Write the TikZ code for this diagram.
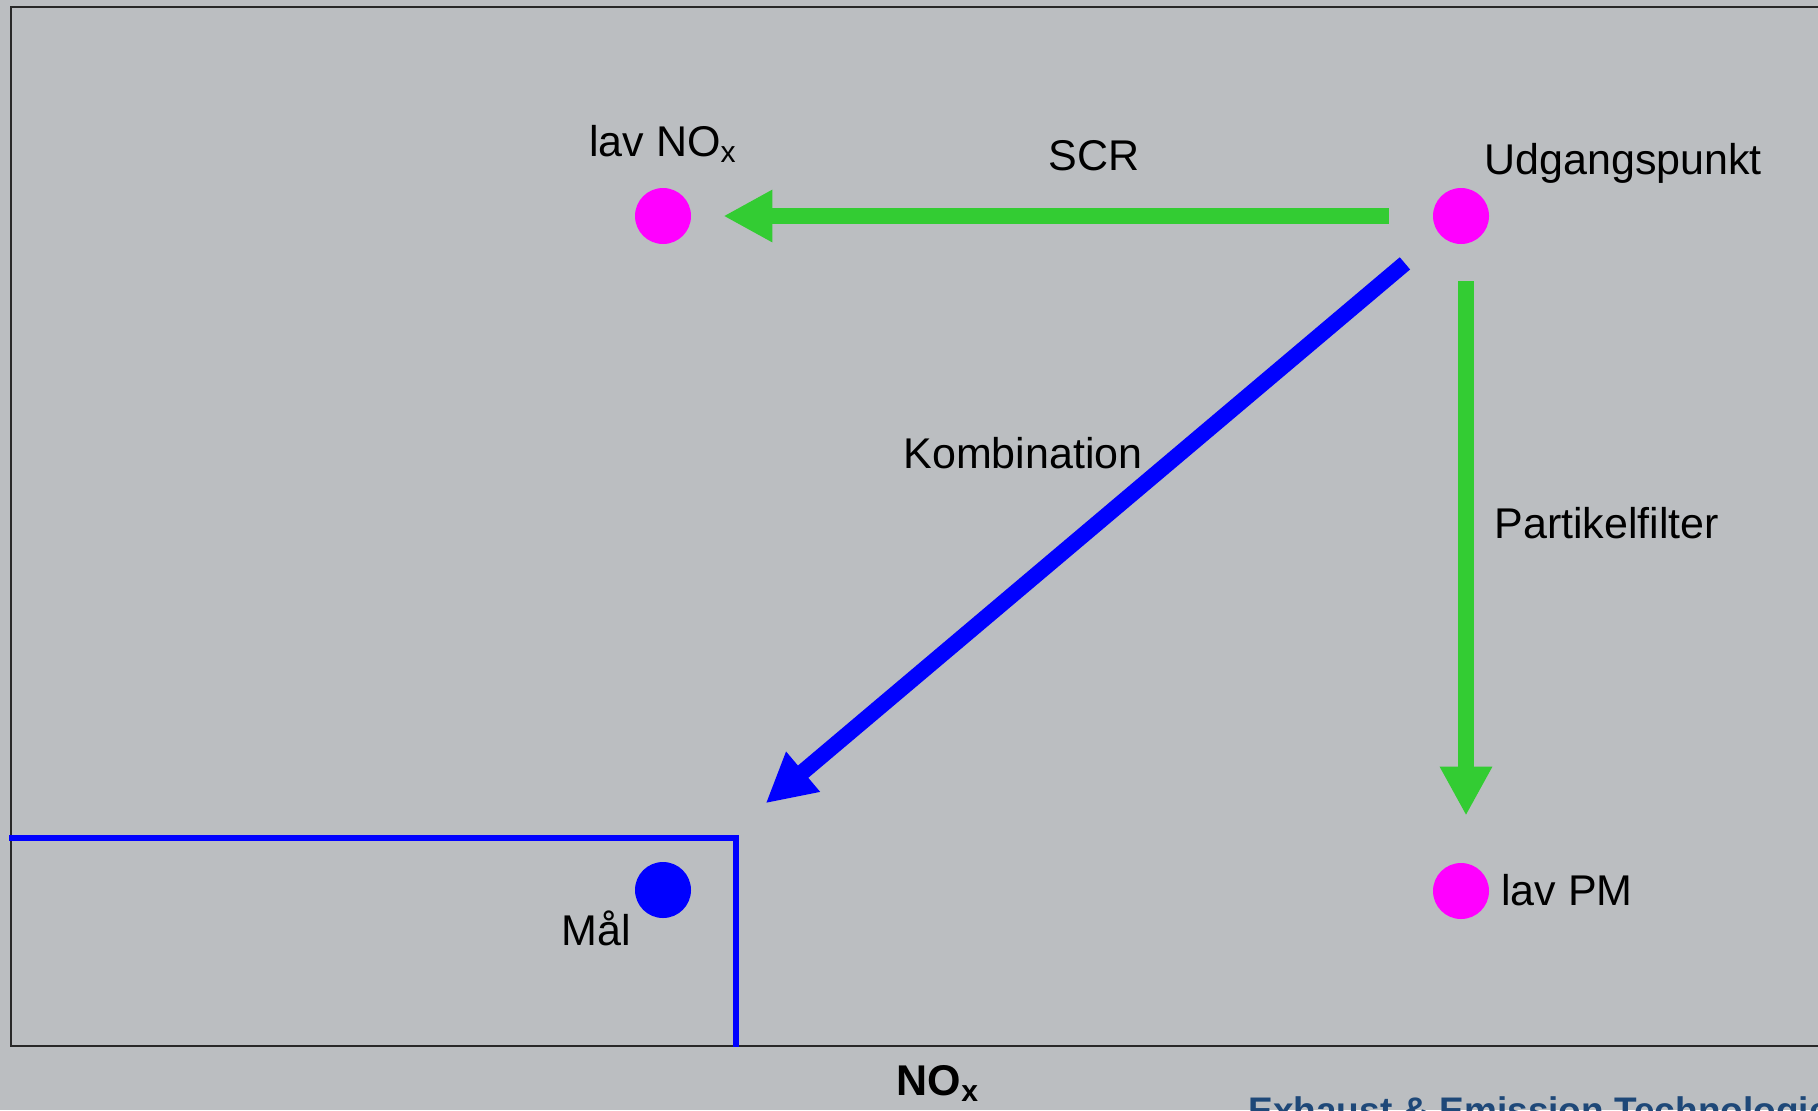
\documentclass[tikz,border=0pt]{standalone}
\usepackage{fontspec}
\setmainfont{Liberation Sans}
\usetikzlibrary{arrows.meta}

\definecolor{bggrey}{RGB}{187,190,193}
\definecolor{framegrey}{RGB}{40,40,40}
\definecolor{arrowgreen}{RGB}{51,204,51}
\definecolor{dotmagenta}{RGB}{255,0,255}
\definecolor{logoblue}{RGB}{30,72,120}

\tikzset{
  dot/.style={circle,minimum size=28pt,inner sep=0pt},
  lbl/.style={anchor=base,inner sep=0pt,font=\fontsize{21.5}{26}\selectfont},
  greenarrow/.style={arrowgreen,line width=8pt,-{Triangle[length=24.5pt,width=24.5pt]}},
  bluearrow/.style={blue,line width=8pt,-{Triangle[length=24.5pt,width=24.5pt]}}
}

\begin{document}
\begin{tikzpicture}[x=0.5pt,y=-0.5pt]
\fill[bggrey] (0,0) rectangle (1818,1110);
\useasboundingbox (0,0) rectangle (1818,1110);

\draw[framegrey,line width=1pt] (1818,7) -- (11,7) -- (11,1046) -- (1818,1046);

\coordinate (boxa) at (9,838);
\coordinate (boxb) at (736,1047);
\draw[blue,line width=3.2pt] (boxa) -| (boxb);

\node[dot,fill=dotmagenta] (udgang) at (1461,216) {};
\node[dot,fill=dotmagenta] (lavnox) at (663,216) {};
\node[dot,fill=dotmagenta] (lavpm) at (1461,891) {};
\node[dot,fill=blue] (maal) at (663,890) {};

\draw[greenarrow,shorten <=22pt,shorten >=16pt] (udgang) -- (lavnox);
\draw[greenarrow,shorten <=18.5pt,shorten >=23.5pt]
  ([xshift=2.5pt]udgang.south) -- ([xshift=2.5pt]lavpm.north);
\draw[bluearrow,shorten <=22.5pt,shorten >=53pt] (udgang) -- (maal);

\node[lbl] (lavnoxtxt) at (663,156) {lav NO\textsubscript{x}};
\node[lbl] (scrtxt) at (1094,170) {SCR};
\node[lbl,anchor=base west] (udgangtxt) at (1484,174) {Udgangspunkt};
\node[lbl] (kombtxt) at (1023,468) {Kombination};
\node[lbl,anchor=base west] (partxt) at (1494,538) {Partikelfilter};
\node[lbl,anchor=base west] (lavpmtxt) at (1501,905) {lav PM};
\node[lbl] (maaltxt) at (596,945) {Mål};
\node[lbl,font=\fontsize{21.5}{26}\selectfont\bfseries] (noxtxt) at (938,1095) {NO\textsubscript{x}};

\node[anchor=base west,inner sep=0pt,text=logoblue,font=\fontsize{18.5}{22}\selectfont\bfseries]
  (logo) at (1248,1123) {Exhaust \& Emission Technologies};
\end{tikzpicture}
\end{document}
